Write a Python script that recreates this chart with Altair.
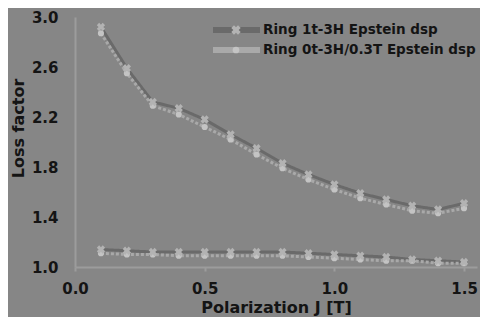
import altair as alt
import pandas as pd

# Polarization J [T]
x_vals = [0.1, 0.2, 0.3, 0.4, 0.5, 0.6, 0.7, 0.8, 0.9, 1.0, 1.1, 1.2, 1.3, 1.4, 1.5]

series_names = ["Ring 1t-3H Epstein dsp", "Ring 0t-3H/0.3T Epstein dsp"]

# upper curves
ring1_high = [2.92, 2.59, 2.32, 2.27, 2.18, 2.06, 1.95, 1.83, 1.74, 1.66, 1.59, 1.54, 1.49, 1.46, 1.51]
ring2_high = [2.87, 2.55, 2.29, 2.22, 2.12, 2.02, 1.90, 1.79, 1.70, 1.62, 1.55, 1.50, 1.45, 1.43, 1.47]
# lower curves
ring1_low = [1.14, 1.13, 1.12, 1.12, 1.12, 1.12, 1.12, 1.12, 1.11, 1.10, 1.09, 1.08, 1.06, 1.05, 1.04]
ring2_low = [1.11, 1.10, 1.10, 1.09, 1.09, 1.09, 1.09, 1.09, 1.08, 1.07, 1.06, 1.05, 1.05, 1.03, 1.03]

x_ticks = [0.0, 0.5, 1.0, 1.5]
y_ticks = [1.0, 1.4, 1.8, 2.2, 2.6, 3.0]

rows = []
for name, grp, ys in [
    (series_names[0], "high", ring1_high),
    (series_names[1], "high", ring2_high),
    (series_names[0], "low", ring1_low),
    (series_names[1], "low", ring2_low),
]:
    for xv, yv in zip(x_vals, ys):
        rows.append({"J": xv, "loss": yv, "series": name, "group": grp})
df = pd.DataFrame(rows)

FONT = "DejaVu Sans"
TXT = "#141414"
LINE_COLORS = ["#6a6a6a", "#a9a9a9"]
MARK1 = "#b3b3b3"
MARK2 = "#c4c4c4"

x_enc = alt.X(
    "J:Q",
    scale=alt.Scale(domain=[0, 1.55], nice=False, zero=False),
    axis=alt.Axis(values=x_ticks, format=".1f", title="Polarization J [T]",
                  tickSize=4, labelPadding=10, labelFlush=False,
                  titleY=40, titleBaseline="middle"),
)
y_enc = alt.Y(
    "loss:Q",
    scale=alt.Scale(domain=[1.0, 3.0], nice=False, zero=False),
    axis=alt.Axis(values=y_ticks, format=".1f", title="Loss factor",
                  tickSize=0, labelPadding=17, labelFlush=False,
                  titleX=-57, titleY=111,
                  titleAlign="center", titleBaseline="middle"),
)

color = alt.Color(
    "series:N",
    scale=alt.Scale(domain=series_names, range=LINE_COLORS),
    legend=None,
)

lines = alt.Chart(df).mark_line(strokeWidth=3).encode(
    x=x_enc, y=y_enc, color=color, detail="group:N",
    strokeDash=alt.StrokeDash("series:N",
                              scale=alt.Scale(domain=series_names, range=[[1, 0], [3, 2]]),
                              legend=None),
    order="J:Q",
)

pts2 = alt.Chart(df).transform_filter(alt.datum.series == series_names[1]).mark_circle(
    size=38, color=MARK2, opacity=1
).encode(x=x_enc, y=y_enc)

pts1 = alt.Chart(df).transform_filter(alt.datum.series == series_names[0]).mark_point(
    shape="cross", angle=45, filled=True, size=70, color=MARK1, opacity=1
).encode(x=x_enc, y=y_enc)

# legend (drawn as marks in the top-right corner)
legend_layers = []
for i, name in enumerate(series_names):
    ly = 13 + 20 * i
    base = alt.Chart(pd.DataFrame({"series": [name]}))
    legend_layers.append(
        base.mark_rule(strokeWidth=6, color=LINE_COLORS[i]).encode(
            x=alt.value(138), x2=alt.value(185), y=alt.value(ly))
    )
    if i == 0:
        legend_layers.append(
            base.mark_point(shape="cross", angle=45, filled=True, size=90,
                            color=MARK1, opacity=1).encode(x=alt.value(161), y=alt.value(ly))
        )
    else:
        legend_layers.append(
            base.mark_circle(size=45, color=MARK2, opacity=1).encode(
                x=alt.value(161), y=alt.value(ly))
        )
    legend_layers.append(
        base.mark_text(align="left", baseline="middle", font=FONT, fontSize=13.5,
                       fontWeight="bold", color=TXT).encode(
            x=alt.value(188), y=alt.value(ly), text="series:N")
    )

chart = alt.layer(lines, pts2, pts1, *legend_layers).properties(
    width=402, height=250,
    autosize=alt.AutoSizeParams(type="none"),
    padding={"left": 67, "top": 9, "right": 3, "bottom": 50},
    background="#868686",
).configure_view(stroke=None).configure_axis(
    grid=False,
    domainColor="#9c9c9c", domainWidth=2,
    tickColor="#9c9c9c", tickWidth=2,
    labelFont=FONT, labelFontSize=15, labelFontWeight="bold", labelColor=TXT,
    titleFont=FONT, titleFontSize=16, titleFontWeight="bold", titleColor=TXT,
)

chart.save("out.html", embed_options={"renderer": "svg", "actions": False})
